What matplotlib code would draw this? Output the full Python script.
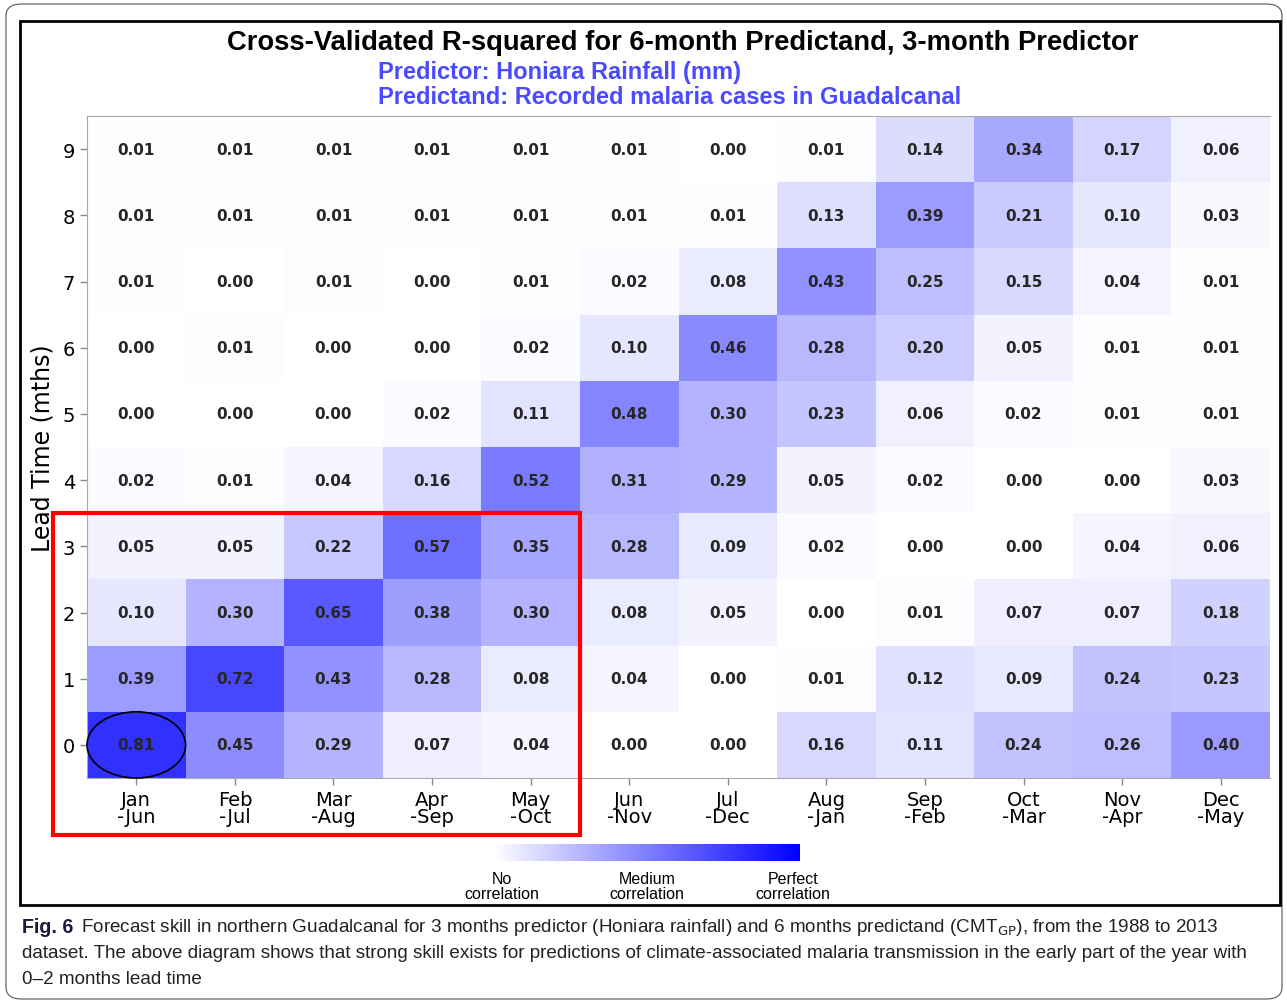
import numpy as np
import matplotlib.pyplot as plt
from matplotlib.colors import LinearSegmentedColormap
from matplotlib.patches import Rectangle, Ellipse, FancyBboxPatch

# Cross-validated R-squared, rows = lead time 0..9, columns = predictand season
seasons = ["Jan\n-Jun", "Feb\n-Jul", "Mar\n-Aug", "Apr\n-Sep", "May\n-Oct", "Jun\n-Nov",
           "Jul\n-Dec", "Aug\n-Jan", "Sep\n-Feb", "Oct\n-Mar", "Nov\n-Apr", "Dec\n-May"]
lead_times = [0, 1, 2, 3, 4, 5, 6, 7, 8, 9]

lead0 = [0.81, 0.45, 0.29, 0.07, 0.04, 0.00, 0.00, 0.16, 0.11, 0.24, 0.26, 0.40]
lead1 = [0.39, 0.72, 0.43, 0.28, 0.08, 0.04, 0.00, 0.01, 0.12, 0.09, 0.24, 0.23]
lead2 = [0.10, 0.30, 0.65, 0.38, 0.30, 0.08, 0.05, 0.00, 0.01, 0.07, 0.07, 0.18]
lead3 = [0.05, 0.05, 0.22, 0.57, 0.35, 0.28, 0.09, 0.02, 0.00, 0.00, 0.04, 0.06]
lead4 = [0.02, 0.01, 0.04, 0.16, 0.52, 0.31, 0.29, 0.05, 0.02, 0.00, 0.00, 0.03]
lead5 = [0.00, 0.00, 0.00, 0.02, 0.11, 0.48, 0.30, 0.23, 0.06, 0.02, 0.01, 0.01]
lead6 = [0.00, 0.01, 0.00, 0.00, 0.02, 0.10, 0.46, 0.28, 0.20, 0.05, 0.01, 0.01]
lead7 = [0.01, 0.00, 0.01, 0.00, 0.01, 0.02, 0.08, 0.43, 0.25, 0.15, 0.04, 0.01]
lead8 = [0.01, 0.01, 0.01, 0.01, 0.01, 0.01, 0.01, 0.13, 0.39, 0.21, 0.10, 0.03]
lead9 = [0.01, 0.01, 0.01, 0.01, 0.01, 0.01, 0.00, 0.01, 0.14, 0.34, 0.17, 0.06]

r2 = np.array([lead0, lead1, lead2, lead3, lead4, lead5, lead6, lead7, lead8, lead9])

caption1 = r"Forecast skill in northern Guadalcanal for 3 months predictor (Honiara rainfall) and 6 months predictand (CMT$_{\mathrm{GP}}$), from the 1988 to 2013"
caption2 = "dataset. The above diagram shows that strong skill exists for predictions of climate-associated malaria transmission in the early part of the year with"
caption3 = "0\u20132 months lead time"

W, H = 1287, 1003
fig = plt.figure(figsize=(W / 100, H / 100), dpi=100)

def fx(px):
    return px / W

def fy(py):
    return 1 - py / H

# outer rounded box and inner black frame
fig.patches.append(FancyBboxPatch((fx(6), fy(1000)), fx(1276), 995 / H,
                                  boxstyle="round,pad=0,rounding_size=0.012",
                                  transform=fig.transFigure, fill=False,
                                  ec="#555555", lw=0.8))
fig.patches.append(Rectangle((fx(20), fy(906)), fx(1260), 884 / H,
                             transform=fig.transFigure, fill=False, ec="black", lw=2))

cmap = LinearSegmentedColormap.from_list("wb", ["#ffffff", "#0000ff"])

ax = fig.add_axes([fx(87), fy(779), fx(1270 - 87), (779 - 117) / H])
ax.pcolormesh(np.arange(13), np.arange(11), r2, cmap=cmap, vmin=0, vmax=1)
for i in range(len(lead_times)):
    for j in range(len(seasons)):
        ax.text(j + 0.5, i + 0.5, f"{r2[i, j]:.2f}", ha="center", va="center",
                fontsize=11, fontweight="bold", color="#262626", family="DejaVu Sans")

ax.set_xlim(0, 12)
ax.set_ylim(0, 10)
ax.set_xticks(np.arange(12) + 0.5)
ax.set_xticklabels(seasons, fontsize=14, linespacing=0.85, family="DejaVu Sans")
ax.set_yticks(np.arange(10) + 0.5)
ax.set_yticklabels(lead_times, fontsize=14, family="DejaVu Sans")
ax.tick_params(colors="#888888", labelcolor="black", length=5, width=1)
for s in ax.spines.values():
    s.set_color("#aaaaaa")
ax.spines["right"].set_visible(False)
ax.set_ylabel("Lead Time (mths)", fontsize=17, family="DejaVu Sans", labelpad=6)

# highlight box and circle
ax.add_patch(Rectangle((-0.345, -0.86), 5.345, 4.86, fill=False, ec="#ff0000",
                       lw=3, clip_on=False, zorder=5))
ax.add_patch(Ellipse((0.5, 0.5), 1.0, 1.0, fill=False, ec="black", lw=1.2,
                     clip_on=False, zorder=5))

# titles
fig.text(fx(683), fy(43), "Cross-Validated R-squared for 6-month Predictand, 3-month Predictor",
         ha="center", va="center", fontsize=19.7, fontweight="bold", family="Liberation Sans")
fig.text(fx(378), fy(72), "Predictor: Honiara Rainfall (mm)", ha="left", va="center",
         fontsize=17, fontweight="bold", color="#4a4aff", family="Liberation Sans")
fig.text(fx(378), fy(98), "Predictand: Recorded malaria cases in Guadalcanal", ha="left",
         va="center", fontsize=17, fontweight="bold", color="#4a4aff", family="Liberation Sans")

# colour scale strip
cax = fig.add_axes([fx(493), fy(862), fx(800 - 493), 17 / H])
cax.imshow(np.linspace(0, 1, 256)[None, :], aspect="auto", cmap=cmap)
cax.axis("off")
for px, lab in [(502, "No\ncorrelation"), (647, "Medium\ncorrelation"), (793, "Perfect\ncorrelation")]:
    fig.text(fx(px), fy(887), lab, ha="center", va="center", fontsize=11.5,
             family="Liberation Sans", linespacing=1.0)

# caption, font size fitted so each line spans the same width as in the figure
renderer = fig.canvas.get_renderer()
cap_font = "Liberation Sans"
figlab = fig.text(fx(22), fy(928), "Fig. 6", ha="left", va="center", fontsize=14,
                  fontweight="bold", color="#1a1a40", family=cap_font)
l2 = fig.text(fx(22), fy(954), caption2, ha="left", va="center", fontsize=14,
              family=cap_font, color="#222222")
w2 = l2.get_window_extent(renderer).width
fs = 14 * (1266 - 22) / w2
l2.set_fontsize(fs)
figlab.set_fontsize(fs + 0.5)
wfig = figlab.get_window_extent(renderer).width
fig.text(fx(22 + wfig + 8), fy(928), caption1, ha="left", va="center", fontsize=fs,
         family=cap_font, color="#222222")
fig.text(fx(22), fy(980), caption3, ha="left", va="center", fontsize=fs,
         family=cap_font, color="#222222")

fig.savefig("out.png", dpi=100)
